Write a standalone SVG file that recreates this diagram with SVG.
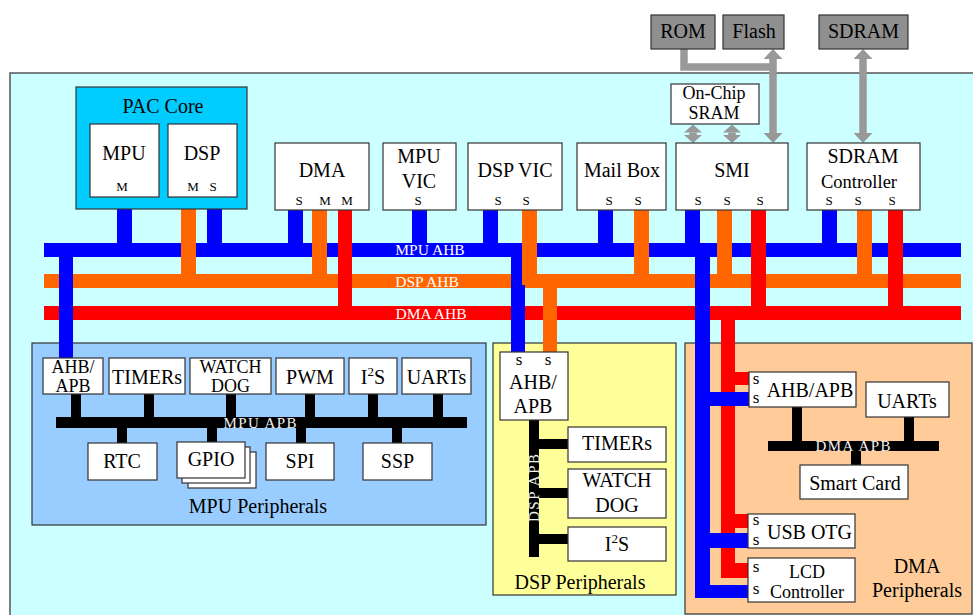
<svg xmlns="http://www.w3.org/2000/svg" width="973" height="615" viewBox="0 0 973 615">
<defs>
<style>
text{font-family:"Liberation Serif","Times New Roman",serif;fill:#000;text-anchor:middle}
.t{font-size:20px}
.t2{font-size:18px}
.sm{font-size:13px}
.ss{font-size:17px}
.bl{font-size:15.5px;fill:#fff}
.ap{font-size:15px;fill:#f0f0f0}
.box{fill:#fff;stroke:#333;stroke-width:1.2}
.gbox{fill:#8f8f8f;stroke:#333;stroke-width:1.2}
.B{fill:#0000ff}
.O{fill:#ff6600}
.R{fill:#ff0000}
.K{fill:#000}
.ga{stroke:#999;stroke-width:7.5;fill:none}
</style>
<marker id="ah" markerUnits="userSpaceOnUse" markerWidth="10" markerHeight="19" refX="0" refY="9.5" orient="auto-start-reverse" viewBox="0 0 10 19">
<path d="M0,0 L10,9.5 L0,19 z" fill="#999"/>
</marker>
<marker id="as" markerUnits="userSpaceOnUse" markerWidth="8" markerHeight="18" refX="0" refY="9" orient="auto-start-reverse" viewBox="0 0 8 18">
<path d="M0,0 L8,9 L0,18 z" fill="#999"/>
</marker>
</defs>

<rect x="10" y="73" width="980" height="560" fill="#ccffff" stroke="#555" stroke-width="1.5"/>

<g id="mpu-peripherals">
<rect x="32" y="343" width="454" height="182" fill="#99ccff" stroke="#333" stroke-width="1.2"/>
<text class="t" x="258" y="513">MPU Peripherals</text>
</g>
<g id="dsp-peripherals">
<rect x="493" y="343" width="183" height="252" fill="#ffff99" stroke="#333" stroke-width="1.2"/>
<text class="t" x="580" y="589">DSP Peripherals</text>
</g>
<g id="dma-peripherals">
<rect x="685" y="343" width="287" height="271" fill="#ffcc99" stroke="#333" stroke-width="1.2"/>
<text class="t" x="917" y="573">DMA</text>
<text class="t" x="917" y="597">Peripherals</text>
</g>

<g id="connectors">
<polyline class="ga" points="684,49 684,67 773,67"/>
<line class="ga" x1="773" y1="59" x2="773" y2="133" marker-start="url(#ah)" marker-end="url(#ah)"/>
<line class="ga" x1="863" y1="59" x2="863" y2="133" marker-start="url(#ah)" marker-end="url(#ah)"/>
<line class="ga" stroke-width="7" x1="693" y1="132.5" x2="693" y2="135" marker-start="url(#as)" marker-end="url(#as)"/>
<line class="ga" stroke-width="7" x1="732" y1="132.5" x2="732" y2="135" marker-start="url(#as)" marker-end="url(#as)"/>
<rect class="B" x="44" y="243" width="917" height="14"/>
<rect class="O" x="44" y="274" width="917" height="14"/>
<rect class="R" x="44" y="306" width="917" height="14"/>
<rect class="B" x="117" y="197" width="15" height="53"/>
<rect class="B" x="207" y="197" width="15" height="53"/>
<rect class="B" x="288" y="210" width="15" height="40"/>
<rect class="B" x="412" y="210" width="15" height="40"/>
<rect class="B" x="483" y="210" width="15" height="40"/>
<rect class="B" x="598" y="210" width="15" height="40"/>
<rect class="B" x="685" y="210" width="15" height="40"/>
<rect class="B" x="822" y="210" width="15" height="40"/>
<rect class="B" x="59" y="250" width="14" height="108"/>
<rect class="B" x="511" y="250" width="14" height="102"/>
<rect class="O" x="181" y="197" width="15" height="84"/>
<rect class="O" x="312" y="210" width="15" height="71"/>
<rect class="O" x="522" y="210" width="15" height="75"/>
<rect class="O" x="634" y="210" width="15" height="71"/>
<rect class="O" x="717" y="210" width="15" height="71"/>
<rect class="O" x="857" y="210" width="15" height="71"/>
<rect class="O" x="543" y="281" width="14" height="71"/>
<rect class="R" x="338" y="210" width="14" height="103"/>
<rect class="R" x="751" y="210" width="15" height="103"/>
<rect class="R" x="888" y="210" width="15" height="103"/>
<rect class="R" x="721" y="313" width="14" height="265"/>
<rect class="R" x="721" y="372" width="28" height="13"/>
<rect class="R" x="721" y="514" width="28" height="14"/>
<rect class="R" x="721" y="563" width="28" height="15"/>
<rect class="B" x="695" y="250" width="15" height="348"/>
<rect class="B" x="695" y="392" width="54" height="14"/>
<rect class="B" x="695" y="533" width="54" height="15"/>
<rect class="B" x="695" y="585" width="54" height="13"/>
<rect class="K" x="56" y="417" width="411" height="11"/>
<rect class="K" x="71" y="394" width="10" height="24"/>
<rect class="K" x="144" y="394" width="10" height="24"/>
<rect class="K" x="226" y="394" width="10" height="24"/>
<rect class="K" x="305" y="394" width="10" height="24"/>
<rect class="K" x="368" y="394" width="10" height="24"/>
<rect class="K" x="433" y="394" width="10" height="24"/>
<rect class="K" x="117" y="427" width="10" height="16"/>
<rect class="K" x="207" y="427" width="10" height="16"/>
<rect class="K" x="296" y="427" width="10" height="16"/>
<rect class="K" x="392" y="427" width="10" height="16"/>
<rect class="K" x="529" y="420" width="10" height="137"/>
<rect class="K" x="538" y="439" width="30" height="10"/>
<rect class="K" x="538" y="488" width="30" height="10"/>
<rect class="K" x="538" y="534" width="30" height="10"/>
<rect class="K" x="768" y="441" width="171" height="10"/>
<rect class="K" x="792" y="406" width="10" height="36"/>
<rect class="K" x="904" y="416" width="10" height="26"/>
<rect class="K" x="851" y="450" width="10" height="16"/>
<text class="bl" x="430" y="254.5">MPU AHB</text>
<text class="bl" x="427" y="286.5">DSP AHB</text>
<text class="bl" x="431" y="318.5">DMA AHB</text>
<text class="ap" x="260" y="427.5" textLength="73">MPU APB</text>
<text class="ap" x="853" y="450.5" textLength="75">DMA APB</text>
<text class="ap" transform="translate(539,488) rotate(-90)" textLength="68">DSP APB</text>
</g>

<g id="rom"><rect class="gbox" x="651" y="15" width="64" height="34"/><text class="t" x="683" y="38">ROM</text></g>
<g id="flash"><rect class="gbox" x="723" y="15" width="61" height="34"/><text class="t" x="754" y="38">Flash</text></g>
<g id="sdram"><rect class="gbox" x="819" y="15" width="89" height="34"/><text class="t" x="863.5" y="38">SDRAM</text></g>

<g id="pac-core">
<rect x="76" y="87" width="171" height="122" fill="#00ccff" stroke="#333" stroke-width="1.2"/>
<text class="t" x="163" y="113">PAC Core</text>
</g>
<g id="mpu"><rect class="box" x="90" y="124" width="69" height="73"/><text class="t" x="124" y="160">MPU</text><text class="sm" x="122" y="191">M</text></g>
<g id="dsp"><rect class="box" x="168" y="124" width="69" height="73"/><text class="t" x="202" y="160">DSP</text><text class="sm" x="193" y="191">M</text><text class="sm" x="213" y="191">S</text></g>

<g id="dma"><rect class="box" x="275" y="143" width="94" height="67"/><text class="t" x="322" y="177">DMA</text>
<text class="sm" x="299" y="205">S</text><text class="sm" x="325" y="205">M</text><text class="sm" x="347" y="205">M</text></g>
<g id="mpu-vic"><rect class="box" x="383" y="143" width="73" height="67"/><text class="t" x="419" y="163">MPU</text><text class="t" x="419" y="188">VIC</text><text class="sm" x="418" y="205">S</text></g>
<g id="dsp-vic"><rect class="box" x="468" y="143" width="94" height="67"/><text class="t" x="515" y="177">DSP VIC</text><text class="sm" x="498" y="205">S</text><text class="sm" x="526" y="205">S</text></g>
<g id="mailbox"><rect class="box" x="577" y="143" width="89" height="67"/><text class="t" x="622" y="177">Mail Box</text><text class="sm" x="609" y="205">S</text><text class="sm" x="638" y="205">S</text></g>
<g id="onchip-sram"><rect class="box" x="671" y="84" width="88" height="40"/><text class="t2" x="714" y="99">On-Chip</text><text class="t2" x="714" y="118.5">SRAM</text></g>
<g id="smi"><rect class="box" x="676" y="143" width="112" height="67"/><text class="t" x="732" y="177">SMI</text>
<text class="sm" x="698" y="205">S</text><text class="sm" x="727" y="205">S</text><text class="sm" x="760" y="205">S</text></g>
<g id="sdram-ctrl"><rect class="box" x="807" y="143" width="113" height="67"/><text class="t" x="863" y="163">SDRAM</text><text x="859" y="188" font-size="18.5">Controller</text>
<text class="sm" x="829" y="205">S</text><text class="sm" x="858" y="205">S</text><text class="sm" x="892" y="205">S</text></g>

<g id="mpu-ahb-apb"><rect class="box" x="43" y="358" width="60" height="36"/><text class="t2" x="73" y="373">AHB/</text><text class="t2" x="73" y="391.5">APB</text></g>
<g id="mpu-timers"><rect class="box" x="109" y="358" width="76" height="36"/><text class="t" x="147" y="384">TIMERs</text></g>
<g id="mpu-watchdog"><rect class="box" x="190" y="358" width="81" height="36"/><text class="t2" x="230.5" y="373">WATCH</text><text class="t2" x="230.5" y="391.5">DOG</text></g>
<g id="pwm"><rect class="box" x="276" y="358" width="68" height="36"/><text class="t" x="310" y="384">PWM</text></g>
<g id="mpu-i2s"><rect class="box" x="349" y="358" width="48" height="36"/><text class="t" x="373" y="384">I<tspan font-size="13" dy="-8">2</tspan><tspan dy="8">S</tspan></text></g>
<g id="mpu-uarts"><rect class="box" x="402" y="358" width="69" height="36"/><text class="t" x="436.5" y="384">UARTs</text></g>
<g id="rtc"><rect class="box" x="88" y="443" width="69" height="37"/><text class="t" x="122" y="468">RTC</text></g>
<g id="gpio"><rect class="box" x="188" y="452" width="68" height="36"/><rect class="box" x="182" y="447" width="68" height="36"/><rect class="box" x="177" y="442" width="68" height="36"/><text class="t" x="211" y="466">GPIO</text></g>
<g id="spi"><rect class="box" x="266" y="443" width="68" height="37"/><text class="t" x="300" y="468">SPI</text></g>
<g id="ssp"><rect class="box" x="363" y="443" width="69" height="37"/><text class="t" x="397.5" y="468">SSP</text></g>

<g id="dsp-ahb-apb"><rect class="box" x="500" y="352" width="68" height="68"/><text class="ss" x="519" y="365">s</text><text class="ss" x="548" y="365">s</text>
<text class="t" x="533" y="389">AHB/</text><text class="t" x="533" y="412.5">APB</text></g>
<g id="dsp-timers"><rect class="box" x="568" y="427" width="98" height="35"/><text class="t" x="617" y="450">TIMERs</text></g>
<g id="dsp-watchdog"><rect class="box" x="568" y="469" width="98" height="49"/><text class="t" x="617" y="486.5">WATCH</text><text class="t" x="617" y="511.5">DOG</text></g>
<g id="dsp-i2s"><rect class="box" x="568" y="527" width="98" height="34"/><text class="t" x="617" y="550.5">I<tspan font-size="13" dy="-8">2</tspan><tspan dy="8">S</tspan></text></g>

<g id="dma-ahb-apb"><rect class="box" x="749" y="372" width="107" height="35"/><text class="ss" x="756" y="384">s</text><text class="ss" x="756" y="403">s</text><text class="t" x="810" y="397">AHB/APB</text></g>
<g id="dma-uarts"><rect class="box" x="866" y="382" width="83" height="35"/><text class="t" x="907" y="408">UARTs</text></g>
<g id="smart-card"><rect class="box" x="800" y="465" width="108" height="34"/><text class="t" x="855" y="490">Smart Card</text></g>
<g id="usb-otg"><rect class="box" x="748" y="514" width="107" height="34"/><text class="ss" x="756" y="525">s</text><text class="ss" x="756" y="545">s</text><text class="t" x="809.5" y="539">USB OTG</text></g>
<g id="lcd"><rect class="box" x="748" y="558" width="107" height="44"/><text class="ss" x="756" y="572">s</text><text class="ss" x="756" y="594">s</text><text class="t2" x="807" y="578">LCD</text><text class="t2" x="807" y="597.5">Controller</text></g>
</svg>
